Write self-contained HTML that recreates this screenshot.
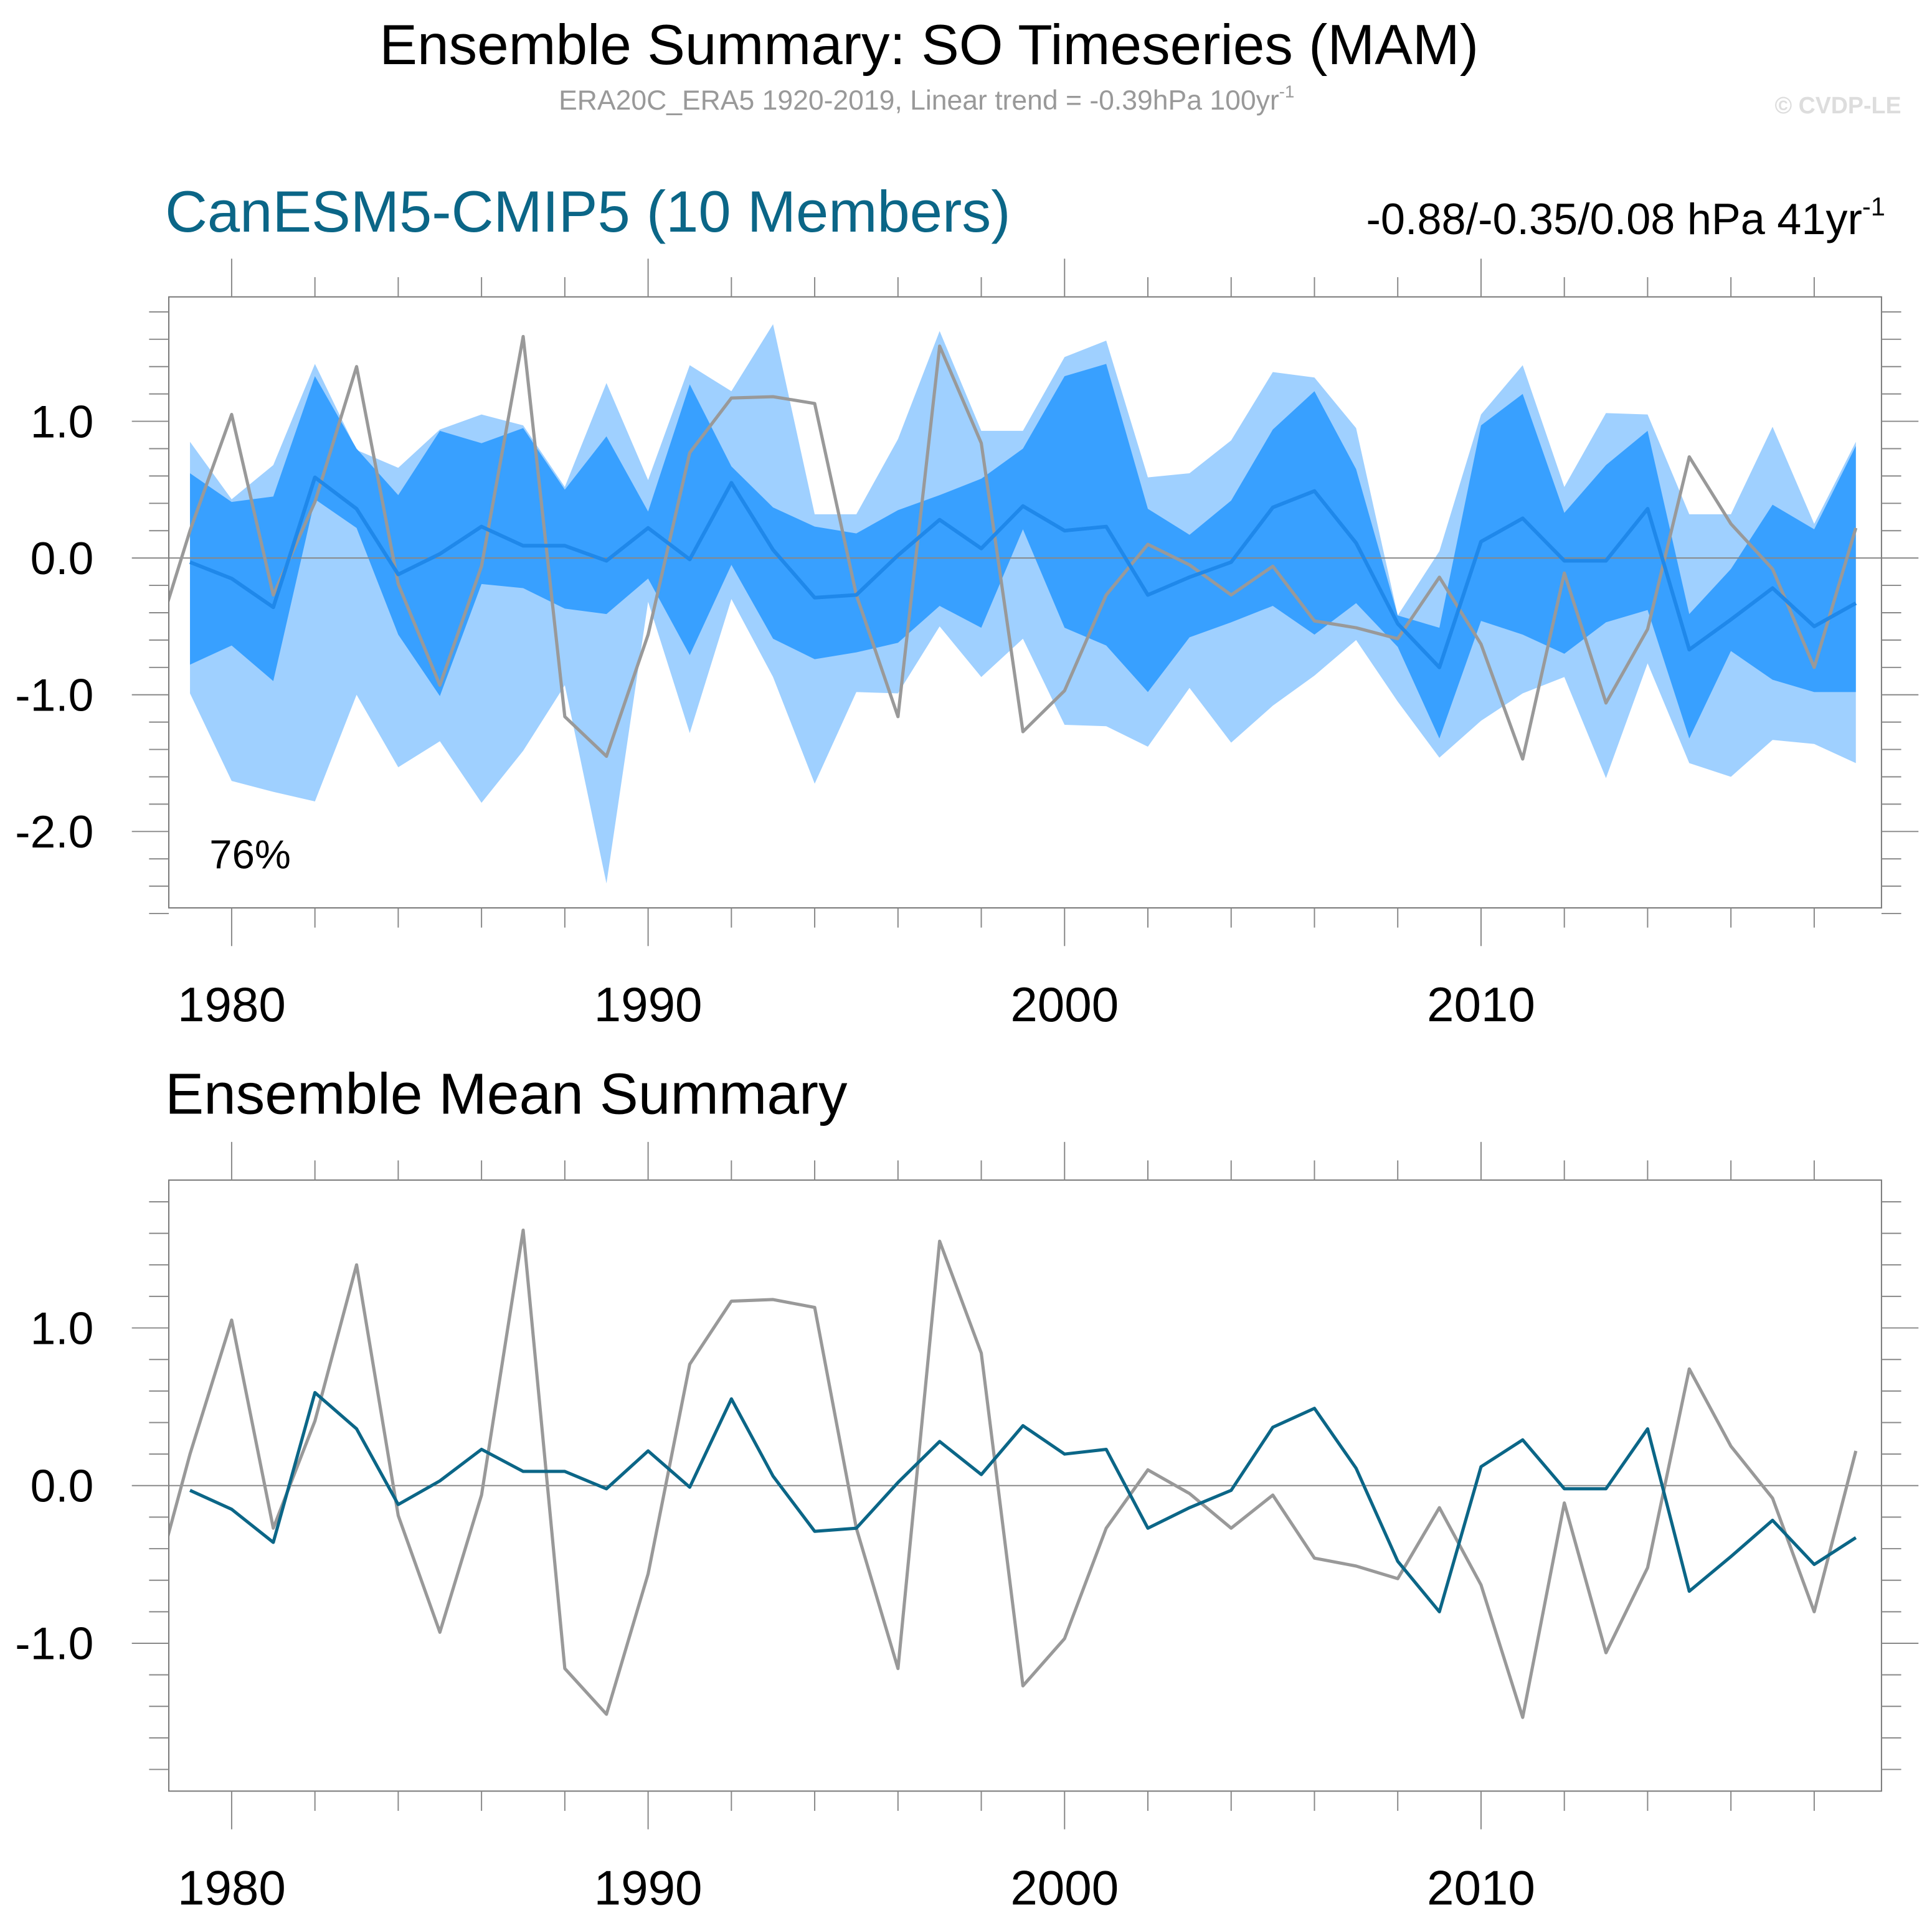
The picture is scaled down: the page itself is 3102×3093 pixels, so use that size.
<!DOCTYPE html>
<html><head><meta charset="utf-8"><style>html,body{margin:0;padding:0;background:#fff}svg{display:block}text{font-family:"Liberation Sans",sans-serif}</style></head>
<body>
<svg id="chart" xmlns="http://www.w3.org/2000/svg" width="3102" height="3093" viewBox="0 0 1568 1563.5" preserveAspectRatio="none">
<text x="754" y="52" font-size="46" text-anchor="middle">Ensemble Summary: SO Timeseries (MAM)</text>
<text x="752" y="89" font-size="22.5" fill="#999" text-anchor="middle">ERA20C_ERA5 1920-2019, Linear trend = -0.39hPa 100yr<tspan dy="-10" font-size="14">-1</tspan></text>
<text x="1543" y="92" font-size="19" font-weight="bold" fill="#ddd" text-anchor="end">© CVDP-LE</text>
<text x="134" y="188" font-size="47.5" fill="#0b6687">CanESM5-CMIP5 (10 Members)</text>
<text x="1530" y="190" font-size="35.5" text-anchor="end">-0.88/-0.35/0.08 hPa 41yr<tspan dy="-15" font-size="21">-1</tspan></text>
<text x="134" y="904" font-size="47">Ensemble Mean Summary</text>
<g id="top"></g>
<g id="bot"></g>
</svg>
<script>
const years=[];for(let y=1979;y<=2019;y++)years.push(y);
const obsYears=[1978].concat(years);
const ensMean=[-0.03,-0.15,-0.36,0.59,0.36,-0.12,0.03,0.23,0.09,0.09,-0.02,0.22,-0.01,0.55,0.06,-0.29,-0.27,0.02,0.28,0.07,0.38,0.2,0.23,-0.27,-0.14,-0.03,0.37,0.49,0.11,-0.48,-0.8,0.12,0.29,-0.02,-0.02,0.36,-0.67,-0.45,-0.22,-0.5,-0.33];
const obs=[-0.78,0.2,1.05,-0.27,0.41,1.4,-0.19,-0.93,-0.06,1.62,-1.16,-1.45,-0.56,0.77,1.17,1.18,1.13,-0.27,-1.16,1.55,0.84,-1.27,-0.97,-0.27,0.1,-0.05,-0.27,-0.06,-0.46,-0.51,-0.59,-0.14,-0.63,-1.47,-0.11,-1.06,-0.52,0.74,0.25,-0.08,-0.8,0.22];
const lightHi=[0.85,0.43,0.68,1.42,0.79,0.66,0.94,1.05,0.97,0.52,1.28,0.57,1.41,1.22,1.71,0.32,0.32,0.87,1.66,0.93,0.93,1.47,1.59,0.59,0.62,0.86,1.36,1.32,0.95,-0.42,0.05,1.05,1.41,0.52,1.06,1.05,0.32,0.32,0.96,0.25,0.85];
const darkHi=[0.62,0.41,0.45,1.33,0.8,0.46,0.93,0.84,0.95,0.5,0.89,0.34,1.27,0.67,0.37,0.23,0.18,0.35,0.46,0.58,0.8,1.33,1.42,0.36,0.17,0.42,0.94,1.22,0.65,-0.42,-0.51,0.97,1.2,0.33,0.68,0.93,-0.41,-0.08,0.39,0.21,0.82];
const darkLo=[-0.78,-0.64,-0.9,0.43,0.22,-0.56,-1.01,-0.19,-0.22,-0.37,-0.41,-0.15,-0.71,-0.05,-0.59,-0.74,-0.69,-0.62,-0.35,-0.51,0.21,-0.51,-0.64,-0.98,-0.58,-0.47,-0.35,-0.56,-0.33,-0.65,-1.32,-0.46,-0.56,-0.7,-0.47,-0.38,-1.32,-0.68,-0.89,-0.98,-0.98];
const lightLo=[-0.99,-1.63,-1.71,-1.78,-1.0,-1.53,-1.34,-1.79,-1.41,-0.93,-2.38,-0.32,-1.28,-0.3,-0.87,-1.65,-0.98,-0.99,-0.5,-0.87,-0.59,-1.22,-1.23,-1.38,-0.95,-1.35,-1.08,-0.86,-0.6,-1.05,-1.46,-1.19,-0.99,-0.87,-1.61,-0.77,-1.5,-1.6,-1.33,-1.36,-1.5];
const yTicksTop=[1.0,0.0,-1.0,-2.0];
const yTickLabelsTop=["1.0","0.0","-1.0","-2.0"];
const yTicksBot=[1.0,0.0,-1.0];
const yTickLabelsBot=["1.0","0.0","-1.0"];
const xTicks=[1980,1990,2000,2010];
const xTickLabels=["1980","1990","2000","2010"];
const NS="http://www.w3.org/2000/svg";
function mk(p,t,a){const e=document.createElementNS(NS,t);for(const k in a)e.setAttribute(k,a[k]);p.appendChild(e);return e;}
const X=y=>188+(y-1980)*33.8;
function panel(g,id,top,bot,zeroY,ppu,vmin,vmax,ticks,labels,drawBands){
  const L=137,R=1527;
  const Y=v=>zeroY-v*ppu;
  const cp=mk(g,'clipPath',{id:'clip'+id});mk(cp,'rect',{x:L,y:top,width:R-L,height:bot-top});
  const pg=mk(g,'g',{'clip-path':'url(#clip'+id+')'});
  if(drawBands){
    const band=(hi,lo,fill,name)=>{let d='';years.forEach((y,i)=>d+=(i?'L':'M')+X(y)+' '+Y(hi[i]));for(let i=years.length-1;i>=0;i--)d+='L'+X(years[i])+' '+Y(lo[i]);
      const p=mk(pg,'path',{d:d+'Z',fill:fill});};
    band(lightHi,lightLo,'#9fd0ff','outer-range-band');
    band(darkHi,darkLo,'#38a0ff','inner-range-band');
  }
  const z=mk(pg,'line',{x1:L,x2:R,y1:Y(0),y2:Y(0),stroke:'#888','stroke-width':1});
  
  let d='';obsYears.forEach((y,i)=>d+=(i?'L':'M')+X(y)+' '+Y(obs[i]));
  const o=mk(pg,'path',{d:d,fill:'none',stroke:'#999','stroke-width':2.6,'stroke-linejoin':'round'});
  
  d='';years.forEach((y,i)=>d+=(i?'L':'M')+X(y)+' '+Y(ensMean[i]));
  const m=mk(pg,'path',{d:d,fill:'none',stroke:drawBands?'#1f88ea':'#0b6687','stroke-width':drawBands?3:2.6,'stroke-linejoin':'round'});
  
  const fr=mk(g,'rect',{x:L,y:top,width:R-L,height:bot-top,fill:'none',stroke:'#777','stroke-width':1});
  
  for(let k=Math.ceil(vmin*5);k<=Math.floor(vmax*5);k++){const v=k/5,yy=Y(v);const maj=Math.abs(v-Math.round(v))<1e-6;
    const len=maj?30:16;
    mk(g,'line',{x1:L-len,x2:L,y1:yy,y2:yy,stroke:'#888','stroke-width':1});
    mk(g,'line',{x1:R,x2:R+len,y1:yy,y2:yy,stroke:'#888','stroke-width':1});}
  for(let yr=1980;yr<=2018;yr+=2){const xx=X(yr);const maj=yr%10==0;const len=maj?31:16;
    mk(g,'line',{x1:xx,x2:xx,y1:top-len,y2:top,stroke:'#888','stroke-width':1});
    mk(g,'line',{x1:xx,x2:xx,y1:bot,y2:bot+len,stroke:'#888','stroke-width':1});}
  ticks.forEach((v,i)=>{const t=mk(g,'text',{x:76,y:Y(v)+13,'font-size':37,'text-anchor':'end'});t.textContent=labels[i];
    });
  xTicks.forEach((v,i)=>{const t=mk(g,'text',{x:X(v),y:bot+92,'font-size':39.5,'text-anchor':'middle'});t.textContent=xTickLabels[i];
    });
}
panel(document.getElementById('top'),'t',241,737,453,111,-2.6,1.8,yTicksTop,yTickLabelsTop,true);
panel(document.getElementById('bot'),'b',958,1454,1206,128,-1.8,1.8,yTicksBot,yTickLabelsBot,false);
const pct=mk(document.getElementById('top'),'text',{x:170,y:705,'font-size':33});pct.textContent='76%';


</script>
</body></html>
